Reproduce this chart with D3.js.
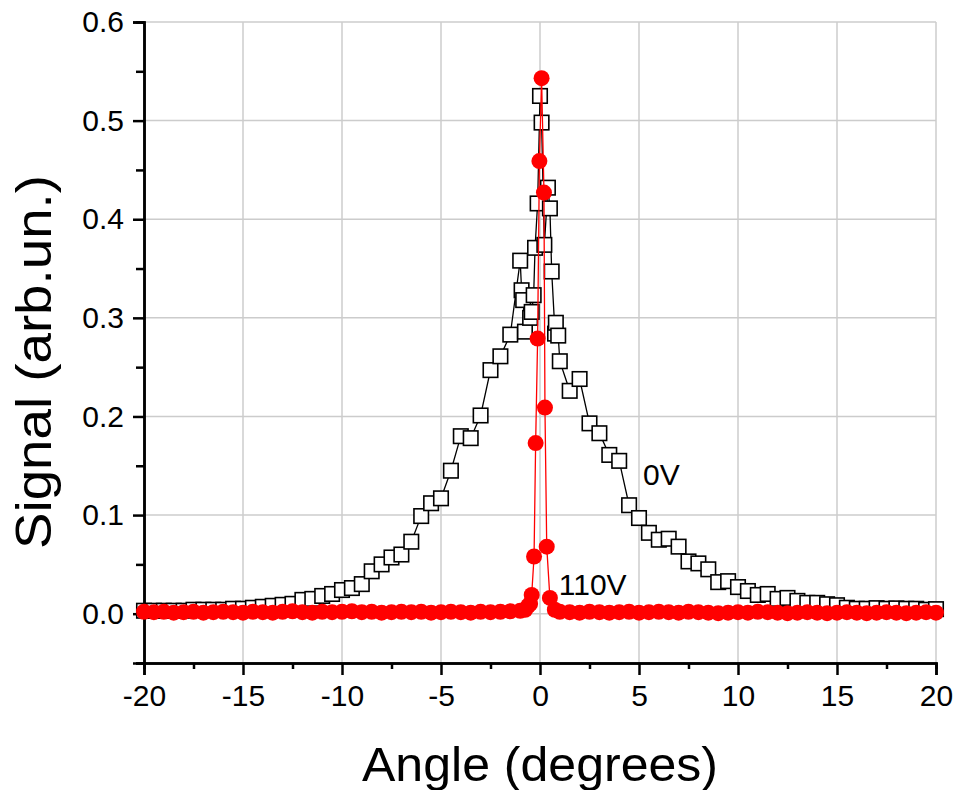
<!DOCTYPE html>
<html>
<head>
<meta charset="utf-8">
<script src="https://cdn.jsdelivr.net/npm/d3@7"></script>
<style>
    body { margin: 0; background: #ffffff; }
    text { font-family: "Liberation Sans", Arial, sans-serif; fill: #000000; }
</style>
</head>
<body>
<div id="chart-area"></div>
<script>

// 0V series (open squares)
var angle0V = [
    -20, -19.5, -19, -18.5, -18, -17.5, -17, -16.5, -16, -15.5,
    -15, -14.5, -14, -13.5, -13, -12.5, -12, -11.5, -11, -10.5,
    -10, -9.5, -9, -8.5, -8, -7.5, -7, -6.5, -6, -5.5,
    -5, -4.5, -4, -3.5, -3, -2.5, -2, -1.5, -1.0, -0.93,
    -0.85, -0.76, -0.5, -0.42, -0.32, -0.25, -0.12, 0.0, 0.08, 0.22,
    0.4, 0.5, 0.59, 0.76, 0.8, 0.92, 1.0, 1.5, 2.0, 2.5,
    3.0, 3.5, 4.0, 4.5, 5.0, 5.5, 6.0, 6.5, 7.0, 7.5,
    8.0, 8.5, 9.0, 9.5, 10.0, 10.5, 11.0, 11.5, 12.0, 12.5,
    13.0, 13.5, 14.0, 14.5, 15.0, 15.5, 16.0, 16.5, 17.0, 17.5,
    18.0, 18.5, 19.0, 19.5, 20.0
];
var signal0V = [
    0.003, 0.003, 0.003, 0.003, 0.003, 0.004, 0.004, 0.004, 0.004, 0.005,
    0.005, 0.006, 0.007, 0.008, 0.009, 0.010, 0.014, 0.015, 0.018, 0.020,
    0.024, 0.026, 0.030, 0.043, 0.050, 0.057, 0.060, 0.073, 0.099, 0.112,
    0.117, 0.145, 0.180, 0.178, 0.201, 0.247, 0.261, 0.283, 0.358, 0.328,
    0.318, 0.286, 0.300, 0.306, 0.323, 0.371, 0.416, 0.525, 0.498, 0.374,
    0.432, 0.411, 0.347, 0.284, 0.295, 0.282, 0.256, 0.226, 0.238, 0.193,
    0.183, 0.161, 0.155, 0.110, 0.097, 0.082, 0.075, 0.076, 0.068, 0.053,
    0.051, 0.045, 0.032, 0.033, 0.027, 0.023, 0.019, 0.020, 0.015, 0.016,
    0.013, 0.011, 0.011, 0.0096, 0.0086, 0.006, 0.005, 0.005, 0.0056, 0.005,
    0.0054, 0.005, 0.005, 0.004, 0.0046
];

// 110V series (filled red circles)
var angle110V = [
    -20, -19.5, -19, -18.5, -18, -17.5, -17, -16.5, -16, -15.5,
    -15, -14.5, -14, -13.5, -13, -12.5, -12, -11.5, -11, -10.5,
    -10, -9.5, -9, -8.5, -8, -7.5, -7, -6.5, -6, -5.5,
    -5, -4.5, -4, -3.5, -3, -2.5, -2, -1.5, -1.0, -0.75,
    -0.6, -0.5, -0.42, -0.3, -0.22, -0.12, -0.03, 0.08, 0.2, 0.25,
    0.34, 0.5, 0.75, 1.0, 1.5, 2.0, 2.5, 3.0, 3.5, 4.0,
    4.5, 5.0, 5.5, 6.0, 6.5, 7.0, 7.5, 8.0, 8.5, 9.0,
    9.5, 10.0, 10.5, 11.0, 11.5, 12.0, 12.5, 13.0, 13.5, 14.0,
    14.5, 15.0, 15.5, 16.0, 16.5, 17.0, 17.5, 18.0, 18.5, 19.0,
    19.5, 20.0
];
var signal110V = [
    0.002, 0.0015, 0.002, 0.001, 0.0015, 0.002, 0.001, 0.0015, 0.002, 0.0015,
    0.001, 0.002, 0.0015, 0.001, 0.002, 0.0025, 0.0015, 0.001, 0.002, 0.0015,
    0.002, 0.0025, 0.0015, 0.002, 0.001, 0.0015, 0.002, 0.0015, 0.002, 0.001,
    0.0015, 0.002, 0.0015, 0.001, 0.002, 0.0015, 0.002, 0.0025, 0.003, 0.004,
    0.008, 0.010, 0.019, 0.058, 0.173, 0.279, 0.459, 0.543, 0.427, 0.209,
    0.068, 0.016, 0.004, 0.002, 0.0015, 0.001, 0.002, 0.0015, 0.001, 0.0015,
    0.002, 0.001, 0.0015, 0.002, 0.0015, 0.001, 0.002, 0.0015, 0.001, 0.0005,
    0.001, 0.0015, 0.001, 0.002, 0.0015, 0.001, 0.0005, 0.001, 0.0015, 0.001,
    0.0005, 0.001, 0.0015, 0.001, 0.0005, 0.001, 0.0015, 0.001, 0.0005, 0.001,
    0.0015, 0.001
];

var xTicks = [-20, -15, -10, -5, 0, 5, 10, 15, 20];
var xTickLabels = ["-20", "-15", "-10", "-5", "0", "5", "10", "15", "20"];
var yTicks = [0.0, 0.1, 0.2, 0.3, 0.4, 0.5, 0.6];
var yTickLabels = ["0.0", "0.1", "0.2", "0.3", "0.4", "0.5", "0.6"];
var seriesLabels = ["0V", "110V"];

// Margin convention
var margin = {top: 22, right: 20, bottom: 127, left: 144};
var width = 956 - margin.left - margin.right,
    height = 790 - margin.top - margin.bottom;

var svg = d3.select("#chart-area").append("svg")
    .attr("width", 956)
    .attr("height", 790)
    .append("g")
    .attr("transform", "translate(" + margin.left + "," + margin.top + ")");

// Scales
var x = d3.scaleLinear()
    .domain([-20, 20])
    .range([0, 792]);

var y = d3.scaleLinear()
    .domain([-0.05, 0.6])
    .range([641, 0]);

// Grid lines
svg.append("g")
    .selectAll("line.vgrid")
    .data(xTicks.filter(function(d) { return d !== -20; }))
    .enter().append("line")
    .attr("x1", function(d) { return x(d); })
    .attr("x2", function(d) { return x(d); })
    .attr("y1", y(-0.05))
    .attr("y2", y(0.6))
    .attr("stroke", "#cccccc")
    .attr("stroke-width", 1.5);

svg.append("g")
    .selectAll("line.hgrid")
    .data(yTicks)
    .enter().append("line")
    .attr("x1", x(-20))
    .attr("x2", x(20))
    .attr("y1", function(d) { return y(d); })
    .attr("y2", function(d) { return y(d); })
    .attr("stroke", "#cccccc")
    .attr("stroke-width", 1.5);

// Axes (hyphen labels as in the original)
var xAxis = d3.axisBottom(x)
    .tickValues(xTicks)
    .tickSize(12)
    .tickPadding(10)
    .tickFormat(function(d, i) { return xTickLabels[i]; });

var xMinor = d3.axisBottom(x)
    .tickValues(d3.range(-17.5, 20, 5))
    .tickSize(6)
    .tickFormat("");

var yAxis = d3.axisLeft(y)
    .tickValues(yTicks)
    .tickSize(11)
    .tickPadding(9)
    .tickFormat(function(d, i) { return yTickLabels[i]; });

var yMinor = d3.axisLeft(y)
    .tickValues([-0.05, 0.05, 0.15, 0.25, 0.35, 0.45, 0.55])
    .tickSize(8)
    .tickFormat("");

svg.append("g")
    .attr("class", "axis")
    .attr("transform", "translate(0," + y(-0.05) + ")")
    .call(xMinor);

svg.append("g")
    .attr("class", "axis")
    .attr("transform", "translate(0," + y(-0.05) + ")")
    .call(xAxis);

svg.append("g")
    .attr("class", "axis")
    .call(yMinor);

svg.append("g")
    .attr("class", "axis")
    .call(yAxis);

svg.selectAll(".axis path")
    .attr("stroke", "#000000")
    .attr("stroke-width", 2.5);
svg.selectAll(".axis line")
    .attr("stroke", "#000000")
    .attr("stroke-width", 2.5);
svg.selectAll(".axis text")
    .attr("font-size", 30)
    .attr("font-family", "'Liberation Sans', Arial, sans-serif")
    .attr("fill", "#000000");

// Axis titles
svg.append("text")
    .attr("x", x(0))
    .attr("y", 759)
    .attr("text-anchor", "middle")
    .attr("font-size", 49)
    .attr("textLength", 356)
    .attr("lengthAdjust", "spacingAndGlyphs")
    .text("Angle (degrees)");

svg.append("text")
    .attr("transform", "translate(-93," + (362 - margin.top) + ") rotate(-90)")
    .attr("text-anchor", "middle")
    .attr("font-size", 50)
    .attr("textLength", 374)
    .attr("lengthAdjust", "spacingAndGlyphs")
    .text("Signal (arb.un.)");

// Line generator
var line = d3.line()
    .x(function(d) { return x(d[0]); })
    .y(function(d) { return y(d[1]); });

var data0V = angle0V.map(function(a, i) { return [a, signal0V[i]]; });
var data110V = angle110V.map(function(a, i) { return [a, signal110V[i]]; });

// 0V: black line + open squares
svg.append("path")
    .datum(data0V)
    .attr("d", line)
    .attr("fill", "none")
    .attr("stroke", "#000000")
    .attr("stroke-width", 1.3);

var sq = 14.5;
svg.selectAll("rect.sq")
    .data(data0V)
    .enter().append("rect")
    .attr("class", "sq")
    .attr("x", function(d) { return x(d[0]) - sq / 2; })
    .attr("y", function(d) { return y(d[1]) - sq / 2; })
    .attr("width", sq)
    .attr("height", sq)
    .attr("fill", "#ffffff")
    .attr("stroke", "#000000")
    .attr("stroke-width", 1.6);

// 110V: red line + filled circles
svg.append("path")
    .datum(data110V)
    .attr("d", line)
    .attr("fill", "none")
    .attr("stroke", "#ff0000")
    .attr("stroke-width", 1.3);

svg.selectAll("circle.dot")
    .data(data110V)
    .enter().append("circle")
    .attr("class", "dot")
    .attr("cx", function(d) { return x(d[0]); })
    .attr("cy", function(d) { return y(d[1]); })
    .attr("r", 8)
    .attr("fill", "#ff0000");

// Series labels
svg.append("text")
    .attr("x", x(5.2))
    .attr("y", y(0.131))
    .attr("font-size", 30)
    .text(seriesLabels[0]);

svg.append("text")
    .attr("x", x(0.95))
    .attr("y", y(0.019))
    .attr("font-size", 30)
    .text(seriesLabels[1]);

</script>
</body>
</html>
